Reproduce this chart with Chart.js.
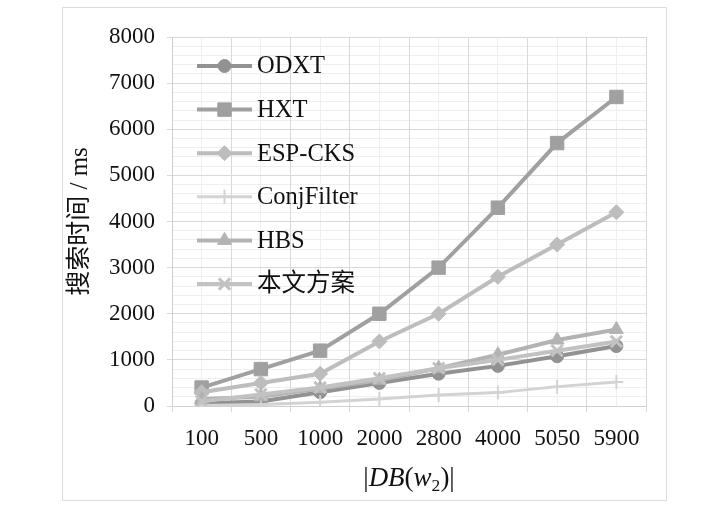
<!DOCTYPE html>
<html>
<head>
<meta charset="utf-8">
<script src="https://cdn.jsdelivr.net/npm/chart.js@4.4.1/dist/chart.umd.min.js"></script>
<style>
    html, body { margin: 0; padding: 0; background: #ffffff; }
    #wrap { width: 705px; height: 512px; position: relative; }
</style>
</head>
<body>
<div id="wrap"><canvas id="searchChart" width="705" height="512"></canvas></div>
<script>
// Datos
const categories = ['100', '500', '1000', '2000', '2800', '4000', '5050', '5900'];
const odxt = [60, 100, 300, 500, 700, 870, 1080, 1300];
const hxt = [400, 800, 1200, 2000, 3000, 4300, 5700, 6700];
const espCks = [300, 500, 700, 1400, 2000, 2800, 3500, 4200];
const conjFilter = [10, 30, 80, 150, 240, 290, 420, 520];
const hbs = [150, 200, 380, 560, 820, 1110, 1430, 1660];
const ours = [100, 250, 400, 600, 820, 1000, 1200, 1400];
const seriesNames = ['ODXT', 'HXT', 'ESP-CKS', 'ConjFilter', 'HBS', '本文方案'];
const yMin = 0, yMax = 8000, yStep = 1000, yMinorStep = 200;

const serif = '"Liberation Serif", "Times New Roman", "Noto Sans CJK SC", serif';
const majorGrid = '#d9d9d9';
const minorGrid = '#efefef';

function makeSeries(label, data, color, style, radius, lineW, pointW, order) {
    return {
        label: label,
        data: data,
        borderColor: color,
        backgroundColor: color,
        pointBackgroundColor: color,
        pointBorderColor: color,
        pointStyle: style,
        pointRadius: radius,
        pointHoverRadius: radius,
        pointBorderWidth: pointW,
        borderWidth: lineW,
        tension: 0,
        order: order,
        xAxisID: 'x',
        yAxisID: 'y'
    };
}

const datasets = [
    makeSeries(seriesNames[0], odxt, '#929292', 'circle', 6.5, 4, 1, 6),
    makeSeries(seriesNames[1], hxt, '#a0a0a0', 'rect', 9.5, 4, 1, 5),
    makeSeries(seriesNames[2], espCks, '#bdbdbd', 'rectRot', 7.5, 4, 1, 4),
    makeSeries(seriesNames[3], conjFilter, '#d3d3d3', 'cross', 7, 3, 2, 3),
    makeSeries(seriesNames[4], hbs, '#b3b3b3', 'triangle', 8, 4, 1, 2),
    makeSeries(seriesNames[5], ours, '#c2c2c2', 'crossRot', 8, 4, 3, 1)
];

// Marco exterior
const framePlugin = {
    id: 'frame',
    beforeDraw(chart) {
        const ctx = chart.ctx;
        ctx.save();
        ctx.fillStyle = '#ffffff';
        ctx.fillRect(0, 0, chart.width, chart.height);
        ctx.strokeStyle = '#dcdcdc';
        ctx.lineWidth = 1;
        ctx.strokeRect(62.5, 7.5, 604, 493);
        ctx.restore();
    }
};

// Leyenda dentro del área del gráfico
const insideLegend = {
    id: 'insideLegend',
    afterDatasetsDraw(chart) {
        const ctx = chart.ctx;
        const area = chart.chartArea;
        const x0 = area.left + 25;
        const y0 = area.top + 29;
        chart.data.datasets.forEach((ds, i) => {
            const y = y0 + i * 43.6;
            ctx.save();
            ctx.strokeStyle = ds.borderColor;
            ctx.lineWidth = ds.borderWidth;
            ctx.beginPath();
            ctx.moveTo(x0, y);
            ctx.lineTo(x0 + 55, y);
            ctx.stroke();
            ctx.fillStyle = ds.pointBackgroundColor;
            ctx.strokeStyle = ds.pointBorderColor;
            ctx.lineWidth = ds.pointBorderWidth;
            Chart.helpers.drawPoint(ctx, {
                pointStyle: ds.pointStyle,
                radius: ds.pointRadius,
                borderWidth: ds.pointBorderWidth,
                rotation: 0
            }, x0 + 27.5, y);
            ctx.fillStyle = '#111111';
            ctx.font = '24.5px ' + serif;
            ctx.textBaseline = 'middle';
            ctx.textAlign = 'left';
            ctx.fillText(ds.label, x0 + 60, y + 1);
            ctx.restore();
        });
    }
};

// Título del eje X: |DB(w2)| con cursiva y subíndice
const xTitlePlugin = {
    id: 'xTitle',
    afterDraw(chart) {
        const ctx = chart.ctx;
        const area = chart.chartArea;
        const size = 27;
        const parts = [
            { t: '|', f: 'normal', s: size, dy: 0 },
            { t: 'DB', f: 'italic', s: size, dy: 0 },
            { t: '(', f: 'normal', s: size, dy: 0 },
            { t: 'w', f: 'italic', s: size, dy: 0 },
            { t: '2', f: 'normal', s: size * 0.65, dy: 5 },
            { t: ')', f: 'normal', s: size, dy: 0 },
            { t: '|', f: 'normal', s: size, dy: 0 }
        ];
        ctx.save();
        let total = 0;
        parts.forEach(p => {
            ctx.font = p.f + ' ' + p.s + 'px ' + serif;
            p.w = ctx.measureText(p.t).width;
            total += p.w;
        });
        let x = (area.left + area.right) / 2 - total / 2;
        const base = 486;
        ctx.fillStyle = '#111111';
        ctx.textBaseline = 'alphabetic';
        ctx.textAlign = 'left';
        parts.forEach(p => {
            ctx.font = p.f + ' ' + p.s + 'px ' + serif;
            ctx.fillText(p.t, x, base + p.dy);
            x += p.w;
        });
        ctx.restore();
    }
};

const ctx = document.getElementById('searchChart').getContext('2d');
const searchChart = new Chart(ctx, {
    type: 'line',
    data: {
        labels: categories,
        datasets: datasets
    },
    options: {
        responsive: false,
        animation: false,
        devicePixelRatio: 1,
        layout: {
            padding: { left: 62, right: 59, top: 37, bottom: 0 }
        },
        scales: {
            xMinor: {
                type: 'category',
                labels: categories,
                position: 'bottom',
                offset: true,
                z: -1,
                grid: { offset: false, color: minorGrid, drawTicks: false },
                border: { display: false },
                ticks: { display: false },
                afterFit(scale) { scale.height = 0; }
            },
            yMinor: {
                type: 'linear',
                position: 'left',
                min: yMin,
                max: yMax,
                z: -1,
                grid: {
                    color: c => (c.tick.value % yStep === 0 ? 'rgba(0,0,0,0)' : minorGrid),
                    drawTicks: false
                },
                border: { display: false },
                ticks: { display: false, stepSize: yMinorStep },
                afterFit(scale) { scale.width = 0; }
            },
            x: {
                type: 'category',
                position: 'bottom',
                offset: true,
                grid: { offset: true, color: majorGrid, tickLength: 6 },
                border: { color: '#cfcfcf', width: 1 },
                ticks: {
                    color: '#111111',
                    padding: 13,
                    maxRotation: 0,
                    autoSkip: false,
                    font: { family: serif, size: 23 }
                },
                afterFit(scale) { scale.height = 106; }
            },
            y: {
                type: 'linear',
                position: 'left',
                min: yMin,
                max: yMax,
                grid: { color: majorGrid, tickLength: 5 },
                border: { color: '#cfcfcf', width: 1 },
                ticks: {
                    stepSize: yStep,
                    color: '#111111',
                    padding: 12,
                    font: { family: serif, size: 23 },
                    callback: value => String(value)
                },
                title: {
                    display: true,
                    text: '搜索时间 / ms',
                    color: '#111111',
                    padding: { top: 3, bottom: 0 },
                    font: { family: serif, size: 25 }
                },
                afterFit(scale) { scale.width = 110; }
            }
        },
        plugins: {
            legend: { display: false },
            tooltip: { enabled: false }
        }
    },
    plugins: [framePlugin, insideLegend, xTitlePlugin]
});
</script>
</body>
</html>
